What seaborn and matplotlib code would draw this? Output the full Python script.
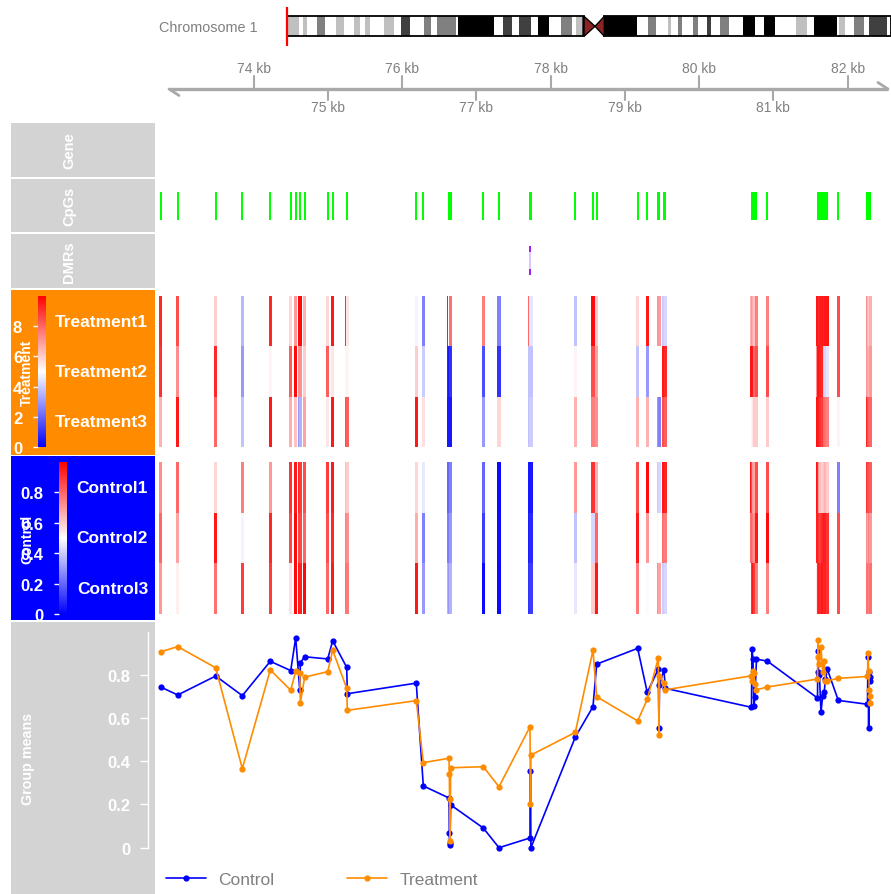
import numpy as np
import pandas as pd
import seaborn as sns
import matplotlib.pyplot as plt
from matplotlib.colors import LinearSegmentedColormap, Normalize
from matplotlib.cm import ScalarMappable
from matplotlib.lines import Line2D
from matplotlib.patches import Polygon, Rectangle

sns.set_style('white')
plt.rcParams['font.family'] = ['Liberation Sans', 'DejaVu Sans']

# ---------------- data ----------------
# chromosome 1 ideogram (Mb band edges and stains)
band_edges = [0, 4.95, 6.36, 8.26, 12.14, 15.57, 19.98, 23.41, 27.54, 29.99,
              32.05, 34.11, 39.93, 44.18, 46.95, 50.67, 56.44, 59.21, 61.69, 69.53,
              70.61, 85.35, 89.19, 92.66, 95.79, 100.50, 103.39, 108.05, 113.01, 117.43,
              119.21, 121.56, 122.51, 127.05, 130.89, 144.27, 148.81, 152.11, 157.07, 158.43,
              161.20, 162.85, 167.64, 169.45, 173.42, 174.94, 178.66, 182.50, 188.28, 193.11,
              196.83, 201.37, 210.04, 214.46, 217.60, 226.85, 227.80, 230.28, 234.12, 238.24,
              240.19, 247.49, 249.25]
band_stain = ['gpos25', 'gneg', 'gpos25', 'gneg', 'gpos50', 'gneg', 'gpos25', 'gneg', 'gpos25',
              'gneg', 'gpos25', 'gneg', 'gpos25', 'gneg', 'gpos75', 'gneg', 'gpos50', 'gneg',
              'gpos50', 'gneg', 'gpos100', 'gneg', 'gpos75', 'gneg', 'gpos75', 'gneg', 'gpos100',
              'gneg', 'gpos50', 'gneg', 'gpos25', 'gpos75', 'acen', 'acen', 'gpos100', 'gneg',
              'gpos50', 'gneg', 'gpos25', 'gneg', 'gpos50', 'gneg', 'gpos50', 'gneg', 'gpos75',
              'gneg', 'gpos50', 'gneg', 'gpos100', 'gneg', 'gpos100', 'gneg', 'gpos25', 'gneg',
              'gpos100', 'gneg', 'gpos25', 'gneg', 'gpos50', 'gneg', 'gpos75', 'gneg']
region_mb = 0.0776

axis_ticks_kb = [74, 75, 76, 77, 78, 79, 80, 81, 82]
track_xlim = (72.699, 82.585)

cpg_kb = [72.749, 72.978, 73.490, 73.848, 74.225, 74.500, 74.567, 74.622, 74.630, 74.688,
          74.998, 75.065, 75.254, 75.263, 76.191, 76.286, 76.632, 76.636, 76.640, 76.644,
          76.655, 77.094, 77.305, 77.723, 77.729, 77.735, 78.333, 78.571, 78.621, 79.173,
          79.302, 79.451, 79.460, 79.467, 79.527, 79.545, 80.706, 80.712, 80.726, 80.739,
          80.753, 80.773, 80.919, 81.595, 81.601, 81.608, 81.621, 81.642, 81.665, 81.686,
          81.702, 81.727, 81.875, 82.268, 82.275, 82.284, 82.292, 82.302, 82.308]

dmr_start, dmr_end = 77.716, 77.742

trt_names = ['Treatment1', 'Treatment2', 'Treatment3']
trt_values = {
    'Treatment1': [9.2, 8.5, 6.0, 3.6, 9.2, 5.8, 7.0, 9.8, 9.8, 6.5,
                   5.8, 9.5, 9.0, 5.5, 4.8, 2.5, 1.5, 2.0, 1.8, 5.0,
                   7.8, 7.5, 2.5, 8.0, 5.2, 4.5, 3.8, 9.8, 6.0, 5.8,
                   9.5, 7.5, 7.2, 7.0, 4.0, 4.2, 6.8, 6.5, 7.0, 6.6,
                   6.2, 7.5, 7.5, 9.5, 9.6, 9.5, 9.2, 9.4, 9.5, 9.3,
                   9.5, 9.6, 8.5, 7.0, 7.2, 6.5, 7.0, 6.0, 6.6],
    'Treatment2': [9.0, 7.2, 9.2, 3.0, 5.2, 8.2, 9.8, 7.0, 7.2, 6.0,
                   8.2, 5.5, 5.2, 5.2, 6.0, 4.0, 0.8, 0.5, 0.6, 0.5,
                   1.0, 1.5, 1.0, 3.8, 4.0, 3.8, 5.2, 8.5, 6.8, 3.8,
                   3.0, 5.2, 5.0, 5.0, 9.5, 9.2, 7.2, 9.5, 9.6, 9.5,
                   8.0, 8.5, 8.5, 7.0, 7.2, 9.5, 9.6, 9.3, 9.2, 4.0,
                   4.2, 4.5, 8.5, 9.5, 7.0, 6.8, 7.2, 6.5, 7.0],
    'Treatment3': [6.5, 9.5, 8.0, 3.8, 9.5, 6.6, 6.2, 3.0, 3.5, 6.8,
                   5.5, 9.5, 8.5, 8.2, 9.5, 5.6, 0.5, 0.5, 0.4, 0.5,
                   0.5, 3.0, 5.8, 3.8, 4.0, 4.0, 6.5, 7.5, 7.2, 6.5,
                   6.5, 2.8, 3.0, 2.5, 8.5, 8.2, 8.5, 5.0, 5.2, 5.5,
                   6.0, 6.0, 6.0, 9.5, 9.6, 9.5, 9.4, 9.0, 8.8, 8.0,
                   7.8, 7.5, 5.2, 8.5, 9.2, 8.5, 8.8, 8.2, 8.0],
}

ctrl_names = ['Control1', 'Control2', 'Control3']
ctrl_values = {
    'Control1': [0.72, 0.80, 0.58, 0.75, 0.70, 0.90, 0.95, 0.92, 0.88, 0.85,
                 0.88, 0.95, 0.62, 0.60, 0.58, 0.46, 0.20, 0.25, 0.22, 0.20,
                 0.25, 0.20, 0.02, 0.05, 0.04, 0.05, 0.70, 0.90, 0.65, 0.85,
                 0.98, 0.38, 0.40, 0.42, 0.95, 0.93, 0.92, 0.95, 0.85, 0.70,
                 0.68, 0.85, 0.85, 0.95, 0.96, 0.92, 0.70, 0.62, 0.60, 0.62,
                 0.65, 0.60, 0.25, 0.75, 0.90, 0.85, 0.80, 0.85, 0.82],
    'Control2': [0.80, 0.68, 0.95, 0.48, 0.92, 0.86, 0.98, 0.85, 0.86, 0.80,
                 0.85, 0.92, 0.75, 0.72, 0.66, 0.25, 0.25, 0.28, 0.26, 0.24,
                 0.30, 0.12, 0.03, 0.06, 0.05, 0.08, 0.38, 0.42, 0.80, 0.95,
                 0.70, 0.50, 0.52, 0.50, 0.78, 0.76, 0.75, 0.78, 0.80, 0.76,
                 0.72, 0.95, 0.98, 0.95, 0.94, 0.93, 0.90, 0.88, 0.92, 0.95,
                 0.94, 0.90, 0.85, 0.70, 0.72, 0.68, 0.70, 0.75, 0.70],
    'Control3': [0.70, 0.53, 0.78, 0.88, 0.88, 0.56, 0.98, 0.95, 0.93, 0.98,
                 0.80, 0.95, 0.78, 0.76, 0.95, 0.30, 0.35, 0.30, 0.32, 0.30,
                 0.35, 0.02, 0.02, 0.10, 0.12, 0.12, 0.45, 0.60, 0.95, 0.76,
                 0.49, 0.70, 0.72, 0.68, 0.40, 0.42, 0.88, 0.50, 0.90, 0.95,
                 0.88, 0.75, 0.75, 0.50, 0.55, 0.90, 0.95, 0.92, 0.95, 0.92,
                 0.93, 0.90, 0.85, 0.80, 0.78, 0.78, 0.80, 0.75, 0.78],
}

ctrl_mean = [0.744, 0.707, 0.795, 0.704, 0.863, 0.820, 0.972, 0.730, 0.857, 0.884,
             0.874, 0.958, 0.835, 0.713, 0.762, 0.286, 0.230, 0.067, 0.014, 0.020,
             0.198, 0.091, 0.000, 0.045, 0.355, 0.000, 0.512, 0.653, 0.850, 0.923,
             0.719, 0.827, 0.554, 0.753, 0.824, 0.738, 0.650, 0.920, 0.873, 0.654,
             0.700, 0.873, 0.864, 0.693, 0.912, 0.815, 0.800, 0.627, 0.704, 0.722,
             0.780, 0.827, 0.682, 0.664, 0.881, 0.554, 0.815, 0.773, 0.790]
trt_mean = [0.907, 0.931, 0.833, 0.366, 0.823, 0.729, 0.817, 0.810, 0.671, 0.790,
            0.815, 0.914, 0.738, 0.636, 0.681, 0.394, 0.414, 0.340, 0.224, 0.032,
            0.370, 0.375, 0.282, 0.560, 0.200, 0.429, 0.534, 0.914, 0.699, 0.587,
            0.687, 0.878, 0.520, 0.795, 0.762, 0.731, 0.796, 0.770, 0.820, 0.809,
            0.760, 0.731, 0.744, 0.781, 0.963, 0.881, 0.850, 0.928, 0.812, 0.866,
            0.770, 0.773, 0.784, 0.793, 0.900, 0.820, 0.732, 0.704, 0.671]

groups = ['Control', 'Treatment']
group_colors = {'Control': '#0000FF', 'Treatment': '#FF8C00'}

# ---------------- layout helpers ----------------
W, H = 891, 895
fig = plt.figure(figsize=(W / 100, H / 100), dpi=100)


def add_px_axes(x0, y0, x1, y1):
    return fig.add_axes([x0 / W, 1 - y1 / H, (x1 - x0) / W, (y1 - y0) / H])


def px_text(x, y, s, **kw):
    fig.text(x / W, 1 - y / H, s, **kw)


title_kw = dict(rotation=90, ha='center', va='center', color='white', fontweight='bold')
axis_grey = '#A9A9A9'
text_grey = '#808080'
cmap = LinearSegmentedColormap.from_list('meth', ['#0000FF', '#FFFFFF', '#FF0000'])

# ---------------- ideogram ----------------
stain_col = {'gneg': '#FFFFFF', 'gpos25': '#C0C0C0', 'gpos50': '#808080',
             'gpos75': '#404040', 'gpos100': '#000000'}
ax_id = add_px_axes(287.3, 8, 891, 48)
chrom_len = band_edges[-1]
ax_id.set_xlim(0, chrom_len)
ax_id.set_ylim(48, 8)
ax_id.axis('off')
starts = np.array(band_edges[:-1])
ends = np.array(band_edges[1:])
keep = [s != 'acen' for s in band_stain]
ax_id.barh(27.3, (ends - starts)[keep], left=starts[keep], height=20,
           color=[stain_col[s] for s in band_stain if s != 'acen'], linewidth=0)
acen = [i for i, s in enumerate(band_stain) if s == 'acen']
cen_a, cen_m, cen_b = band_edges[acen[0]], band_edges[acen[0] + 1], band_edges[acen[-1] + 1]
ax_id.add_patch(Rectangle((0, 17.3), cen_a, 20, fill=False, ec='black', lw=1.3, clip_on=False))
ax_id.add_patch(Rectangle((cen_b, 17.3), chrom_len - cen_b, 20, fill=False, ec='black', lw=1.3,
                          clip_on=False))
for xe in (cen_a, cen_b):
    ax_id.add_patch(Polygon([(xe, 17.3), (cen_m, 27.3), (xe, 37.3)], closed=True,
                            fc='#8B2323', ec='black', lw=1))
ax_id.vlines(region_mb, 8, 47, color='red', lw=1.6, clip_on=False)
px_text(258, 28, 'Chromosome 1', ha='right', va='center', color=text_grey, fontsize=10.4)

# ---------------- genome axis ----------------
ax_g = add_px_axes(157, 55, 891, 120)
ax_g.set_xlim(track_xlim)
ax_g.set_ylim(120, 55)
ax_g.axis('off')
kb_px = (track_xlim[1] - track_xlim[0]) / (891 - 157)
x_a = track_xlim[0] + 12 * kb_px
x_b = track_xlim[1] - 3 * kb_px
ax_g.plot([x_a, x_b], [90, 90], color=axis_grey, lw=2.4, solid_capstyle='butt')
ax_g.plot([x_a, x_a + 10 * kb_px], [90, 96.5], color=axis_grey, lw=2)
ax_g.plot([x_b, x_b - 10 * kb_px], [90, 83.5], color=axis_grey, lw=2)
for kb in axis_ticks_kb:
    up = kb % 2 == 0
    ax_g.plot([kb, kb], [77, 90] if up else [90, 101], color=axis_grey, lw=1.5)
    ax_g.text(kb, 69 if up else 108, f'{kb} kb', ha='center', va='center',
              color=text_grey, fontsize=10)

# ---------------- title panels ----------------
panels = [(124, 178, '#D3D3D3'), (180, 233, '#D3D3D3'), (235, 289, '#D3D3D3'),
          (290.5, 455.5, '#FF8C00'), (457, 621, '#0000FF'), (623, 895, '#D3D3D3')]
for y0, y1, col in panels:
    a = add_px_axes(10.5, y0, 155, y1)
    a.set_facecolor(col)
    a.set_xticks([])
    a.set_yticks([])
    for sp in a.spines.values():
        sp.set_visible(False)
px_text(69, 151, 'Gene', fontsize=10.5, **title_kw)
px_text(69, 206.5, 'CpGs', fontsize=10.5, **title_kw)
px_text(69, 262, 'DMRs', fontsize=10.5, **title_kw)
px_text(28, 759, 'Group means', fontsize=10.3, **title_kw)

# ---------------- CpG track ----------------
ax_c = add_px_axes(157, 180, 891, 233)
ax_c.set_xlim(track_xlim)
ax_c.set_ylim(233, 180)
ax_c.axis('off')
ax_c.bar(cpg_kb, 28, bottom=193, width=0.026, color='#00FF00', linewidth=0)

# ---------------- DMR track ----------------
ax_d = add_px_axes(157, 235, 891, 289)
ax_d.set_xlim(track_xlim)
ax_d.set_ylim(289, 235)
ax_d.axis('off')
dmr_mid = (dmr_start + dmr_end) / 2
dmr_w = dmr_end - dmr_start
ax_d.bar(dmr_mid, 29, bottom=247, width=dmr_w, color='#E2C6FA', linewidth=0)
ax_d.bar(dmr_mid, 6, bottom=247, width=dmr_w, color='#A020F0', linewidth=0)
ax_d.bar(dmr_mid, 6, bottom=270, width=dmr_w, color='#A020F0', linewidth=0)


# ---------------- heatmap tracks ----------------
def heat_track(y0, y1, row_top, row_bot, names, values, vmax):
    ax = add_px_axes(157, y0, 891, y1)
    ax.set_xlim(track_xlim)
    ax.set_ylim(y1, y0)
    ax.axis('off')
    norm = Normalize(0, vmax)
    row_h = (row_bot - row_top) / len(names)
    for i, name in enumerate(names):
        ax.bar(cpg_kb, row_h, bottom=row_top + i * row_h, width=0.0444,
               color=cmap(norm(np.array(values[name]))), linewidth=0)
        px_text(148, row_top + (i + 0.5) * row_h, name, ha='right', va='center',
                color='white', fontsize=12.5, fontweight='bold')
    return norm


def legend_bar(x0, y0, y1, norm, ticks, labels, title, title_y):
    cax = add_px_axes(x0, y0, x0 + 7.4, y1)
    cb = fig.colorbar(ScalarMappable(norm=norm, cmap=cmap), cax=cax)
    cb.outline.set_visible(False)
    cb.set_ticks(ticks, labels=labels)
    cax.yaxis.set_ticks_position('left')
    cax.tick_params(axis='y', left=True, labelleft=True, right=False, labelright=False,
                    colors='white', length=3.6, width=1, pad=8, labelsize=12)
    for t in cax.get_yticklabels():
        t.set_fontweight('bold')
    px_text(27, title_y, title, fontsize=10, **title_kw)


trt_norm = heat_track(290.5, 455.5, 297, 448, trt_names, trt_values, 10)
legend_bar(38.3, 296.7, 448.3, trt_norm, [0, 2, 4, 6, 8], ['0', '2', '4', '6', '8'],
           'Treatment', 373)
ctrl_norm = heat_track(457, 621, 463, 615, ctrl_names, ctrl_values, 1)
legend_bar(59.3, 463, 615, ctrl_norm, [0, 0.2, 0.4, 0.6, 0.8],
           ['0', '0.2', '0.4', '0.6', '0.8'], 'Control', 539)

# ---------------- group means ----------------
n = len(cpg_kb)
df = pd.DataFrame({'position': cpg_kb * 2,
                   'group': ['Control'] * n + ['Treatment'] * n,
                   'mean': ctrl_mean + trt_mean})
ax_l = add_px_axes(157, 623, 891, 865)
ax_l.set_facecolor('none')
sns.lineplot(data=df, x='position', y='mean', hue='group', hue_order=groups,
             palette=group_colors, estimator=None, sort=False, marker='o',
             markersize=4.5, markeredgewidth=0, linewidth=1.2, legend=False, ax=ax_l)
ax_l.set_xlim(track_xlim)
ax_l.set_ylim(-0.0755, 1.045)
ax_l.set_xlabel('')
ax_l.set_ylabel('')
ax_l.set_xticks([])
for side in ['top', 'right', 'bottom']:
    ax_l.spines[side].set_visible(False)
ax_l.spines['left'].set_position(('outward', 6.5))
ax_l.spines['left'].set_color('white')
ax_l.spines['left'].set_linewidth(1)
ax_l.spines['left'].set_bounds(0, 1.0)
ax_l.set_yticks([0, 0.2, 0.4, 0.6, 0.8], labels=['0', '0.2', '0.4', '0.6', '0.8'])
ax_l.tick_params(axis='y', left=True, colors='white', length=5.8, width=1, pad=7,
                 labelsize=12)
for t in ax_l.get_yticklabels():
    t.set_fontweight('bold')

handles = [Line2D([], [], color=group_colors[g], marker='o', markersize=4.5,
                  markeredgewidth=0, lw=1.2) for g in groups]
fig.legend(handles, groups, loc='center left', bbox_to_anchor=(166 / W, 1 - 880 / H),
           ncol=2, frameon=False, fontsize=12.5, handlelength=2.3, handletextpad=0.7,
           columnspacing=4.2, borderpad=0, borderaxespad=0, labelcolor=text_grey)

fig.savefig('out.png', dpi=100)
